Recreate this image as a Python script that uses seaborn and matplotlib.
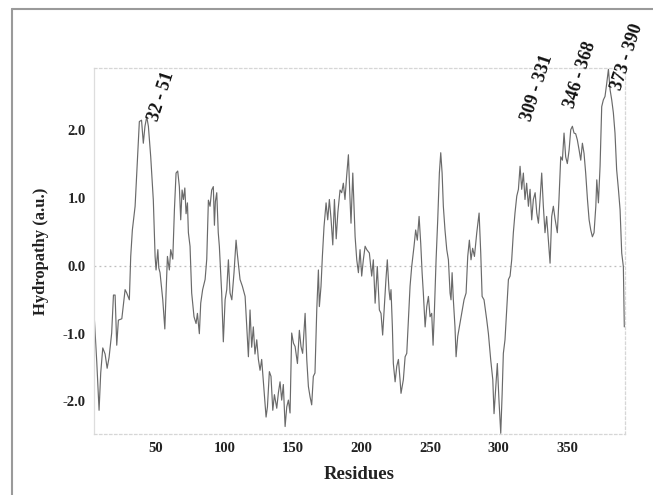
import matplotlib
matplotlib.use("Agg")
import matplotlib.pyplot as plt
from matplotlib.lines import Line2D
import seaborn as sns
import pandas as pd

# ---- data ----
residues = [4.7, 6.7, 8.4, 9.6, 11.1, 12.8, 14.3, 15.7, 17.6, 18.9, 20.1, 21.3, 22.5, 25.0, 27.4, 28.6,
            30.5, 31.5, 32.7, 34.7, 36.4, 37.8, 39.4, 40.7, 41.9, 43.2, 44.4, 46.1, 48.0, 49.3, 50.0,
            51.3, 52.0, 52.9, 54.9, 56.4, 57.3, 58.3, 59.7, 60.7, 62.2, 63.4, 64.6, 65.8, 67.0, 68.0,
            69.0, 70.0, 71.0, 71.9, 72.9, 73.6, 74.8, 76.0, 77.7, 79.2, 80.2, 81.6, 82.6, 84.0, 85.8,
            87.0, 88.2, 89.4, 90.6, 91.8, 92.6, 93.3, 94.3, 95.4, 96.2, 97.9, 99.1, 100.4, 101.6,
            102.8, 104.0, 105.3, 106.9, 108.4, 109.3, 111.3, 113.0, 115.0, 116.2, 117.4, 118.6,
            119.8, 121.0, 122.2, 123.5, 124.7, 125.9, 127.1, 128.8, 130.3, 131.3, 132.7, 133.9,
            135.2, 136.4, 138.1, 139.3, 140.5, 141.7, 142.9, 144.2, 145.4, 146.6, 147.8, 149.0,
            150.3, 151.5, 153.2, 154.6, 155.8, 157.0, 158.8, 160.0, 161.2, 162.4, 163.6, 164.8,
            166.0, 167.3, 168.5, 169.2, 170.4, 171.4, 172.6, 174.1, 175.3, 176.5, 177.7, 179.0,
            180.2, 181.5, 182.7, 184.3, 185.5, 186.7, 187.9, 189.1, 190.4, 191.6, 192.3, 193.6,
            194.5, 195.3, 196.5, 197.7, 198.9, 200.1, 201.3, 202.6, 203.8, 205.7, 207.4, 208.6,
            209.9, 211.5, 213.0, 214.2, 215.4, 216.6, 217.8, 218.8, 220.0, 220.8, 221.5, 222.5,
            223.2, 224.5, 225.7, 226.9, 228.1, 228.8, 230.5, 231.8, 233.0, 234.2, 235.4, 236.6,
            238.3, 239.5, 240.7, 242.0, 243.2, 244.2, 245.1, 246.4, 247.6, 248.8, 250.0, 251.2,
            252.2, 253.2, 254.4, 255.6, 256.8, 257.8, 258.8, 259.7, 260.9, 262.2, 263.4, 264.6,
            265.3, 266.1, 267.0, 268.2, 269.0, 270.2, 271.4, 273.1, 274.8, 276.3, 277.5, 278.7,
            279.9, 281.1, 282.4, 284.1, 285.8, 287.0, 288.0, 289.4, 291.4, 292.6, 294.3, 295.8,
            296.7, 297.9, 299.1, 300.3, 301.6, 302.6, 303.5, 304.7, 305.9, 307.2, 308.4, 309.6,
            310.8, 312.0, 313.3, 314.5, 315.7, 316.9, 318.1, 319.3, 320.5, 321.8, 323.0, 324.2,
            325.4, 326.7, 327.9, 329.1, 330.3, 331.5, 332.7, 333.9, 335.1, 336.4, 337.6, 338.8,
            340.0, 341.2, 342.9, 344.1, 345.4, 346.6, 347.8, 349.0, 350.2, 351.5, 352.7, 353.9,
            355.1, 356.3, 357.5, 358.8, 360.0, 361.2, 362.4, 363.6, 364.9, 366.1, 367.3, 368.5,
            369.7, 371.0, 371.7, 372.9, 374.1, 375.3, 376.5, 377.7, 379.0, 380.2, 381.4, 382.6,
            383.8, 385.0, 386.2, 387.5, 388.7, 389.9, 391.1, 391.8]
hydropathy = [-0.69, -1.41, -2.13, -1.58, -1.21, -1.30, -1.51, -1.35, -0.99, -0.43, -0.43, -1.17, -0.80,
              -0.78, -0.35, -0.40, -0.50, 0.14, 0.53, 0.88, 1.57, 2.13, 2.15, 1.81, 2.06, 2.20, 2.06,
              1.61, 0.97, 0.14, -0.06, 0.24, -0.03, -0.10, -0.50, -0.93, -0.40, 0.14, -0.06, 0.24,
              0.10, 0.83, 1.37, 1.40, 1.17, 0.68, 1.12, 0.98, 1.15, 0.77, 0.93, 0.49, 0.29, -0.40,
              -0.75, -0.85, -0.70, -1.00, -0.55, -0.35, -0.20, 0.10, 0.97, 0.88, 1.12, 1.17, 0.60,
              0.95, 1.08, 0.49, 0.29, -0.40, -1.12, -0.50, -0.35, 0.09, -0.40, -0.50, -0.10, 0.38,
              0.18, -0.20, -0.30, -0.45, -0.90, -1.34, -0.65, -1.20, -0.90, -1.30, -1.09, -1.38,
              -1.54, -1.38, -1.83, -2.23, -2.08, -1.56, -1.63, -2.13, -1.90, -2.10, -1.87, -1.71,
              -1.98, -1.75, -2.37, -2.08, -1.98, -2.17, -0.99, -1.14, -1.19, -1.44, -0.95, -1.19,
              -1.29, -0.70, -1.38, -1.78, -1.93, -2.05, -1.63, -1.58, -0.65, -0.06, -0.60, -0.30,
              0.14, 0.58, 0.93, 0.68, 0.98, 0.70, 0.31, 0.98, 0.40, 0.79, 1.12, 1.08, 1.22, 0.98,
              1.32, 1.64, 0.97, 0.63, 1.37, 0.88, 0.43, 0.09, -0.10, 0.24, -0.15, 0.09, 0.29, 0.24,
              0.19, -0.15, 0.09, -0.55, -0.01, -0.65, -0.70, -1.02, -0.60, -0.20, 0.09, -0.35,
              -0.50, -0.35, -0.90, -1.44, -1.71, -1.48, -1.38, -1.68, -1.88, -1.68, -1.34, -1.29,
              -0.80, -0.30, -0.01, 0.29, 0.53, 0.38, 0.73, 0.33, -0.10, -0.40, -0.90, -0.60, -0.45,
              -0.75, -0.70, -1.17, -0.65, 0.09, 0.68, 1.37, 1.67, 1.37, 0.88, 0.53, 0.24, 0.09,
              -0.40, -0.50, -0.10, -0.50, -0.90, -1.34, -1.04, -0.90, -0.70, -0.50, -0.40, 0.14,
              0.38, 0.09, 0.26, 0.14, 0.49, 0.78, 0.19, -0.45, -0.50, -0.80, -1.00, -1.39, -1.68,
              -2.18, -1.80, -1.44, -1.98, -2.47, -1.90, -1.29, -1.09, -0.65, -0.20, -0.15, 0.09,
              0.49, 0.78, 1.03, 1.13, 1.47, 1.13, 1.37, 0.98, 1.22, 0.88, 1.13, 0.68, 0.98, 1.08,
              0.78, 0.63, 0.98, 1.37, 0.88, 0.49, 0.73, 0.38, 0.04, 0.73, 0.88, 0.70, 0.49, 0.98,
              1.61, 1.56, 1.96, 1.61, 1.51, 1.71, 2.01, 2.06, 1.96, 1.95, 1.86, 1.71, 1.56, 1.81,
              1.66, 1.37, 0.98, 0.68, 0.53, 0.43, 0.49, 0.88, 1.27, 0.93, 1.47, 2.35, 2.45, 2.50,
              2.70, 2.90, 2.60, 2.45, 2.26, 1.96, 1.42, 1.13, 0.83, 0.19, -0.01, -0.90]

ytick_values = [-2.0, -1.0, 0.0, 1.0, 2.0]
ytick_labels = ["-2.0", "-1.0", "0.0", "1.0", "2.0"]
xtick_values = [50, 100, 150, 200, 250, 300, 350]
xtick_labels = ["50", "100", "150", "200", "250", "300", "350"]

region_labels = ["32 - 51", "309 - 331", "346 - 368", "373 - 390"]
region_label_x = [54, 328, 360, 394]
region_label_y = [2.5, 2.63, 2.82, 3.09]

df = pd.DataFrame({"Residue": residues, "Hydropathy": hydropathy})

# ---- figure ----
sns.set_theme(style="white")
plt.rcParams["font.family"] = ["Liberation Serif", "DejaVu Serif"]
plt.rcParams["font.weight"] = "bold"

fig = plt.figure(figsize=(6.53, 4.95), dpi=100)
ax = fig.add_axes([94 / 653, 1 - 434 / 495, (625 - 94) / 653, (434 - 68) / 495])

sns.lineplot(data=df, x="Residue", y="Hydropathy", ax=ax, color="#6a6a6a",
             linewidth=0.85, estimator=None, sort=False)

ax.axhline(0, color="#bdbdbd", linestyle=(0, (1.5, 2.5)), linewidth=0.9, zorder=0)

ax.set_xlim(4.7, 392.3)
ax.set_ylim(-2.48, 2.92)

ax.set_xticks(xtick_values)
ax.set_xticklabels(xtick_labels, fontsize=10.5, fontweight="bold", color="#222222")
ax.set_yticks(ytick_values)
ax.set_yticklabels(ytick_labels, fontsize=10.5, fontweight="bold", color="#222222")
ax.tick_params(axis="x", length=0, pad=6)
ax.tick_params(axis="y", direction="in", length=11, width=1.0, color="#777777", pad=6)

for side, sp in ax.spines.items():
    sp.set_visible(True)
    sp.set_color("#d6d6d6")
    sp.set_linewidth(0.9)
    sp.set_linestyle((0, (2, 2)))
ax.spines["left"].set_linestyle("-")
ax.spines["left"].set_color("#dddddd")

ax.set_xlabel("Residues", fontsize=13.5, fontweight="bold", color="#222222", labelpad=8)
ax.set_ylabel("Hydropathy (a.u.)", fontsize=12, fontweight="bold", color="#222222", labelpad=10)

for lab, lx, ly in zip(region_labels, region_label_x, region_label_y):
    ax.text(lx, ly, lab, rotation=72, ha="center", va="center", fontsize=13,
            fontweight="bold", color="#111111", clip_on=False)

# outer frame lines (top and left) as in the source picture
fig.add_artist(Line2D([12 / 653, 1.0], [1 - 9 / 495, 1 - 9 / 495], transform=fig.transFigure,
                      color="#9a9a9a", linewidth=1.5))
fig.add_artist(Line2D([12 / 653, 12 / 653], [0.0, 1 - 9 / 495], transform=fig.transFigure,
                      color="#9a9a9a", linewidth=1.5))

fig.savefig("out.png", dpi=100)
